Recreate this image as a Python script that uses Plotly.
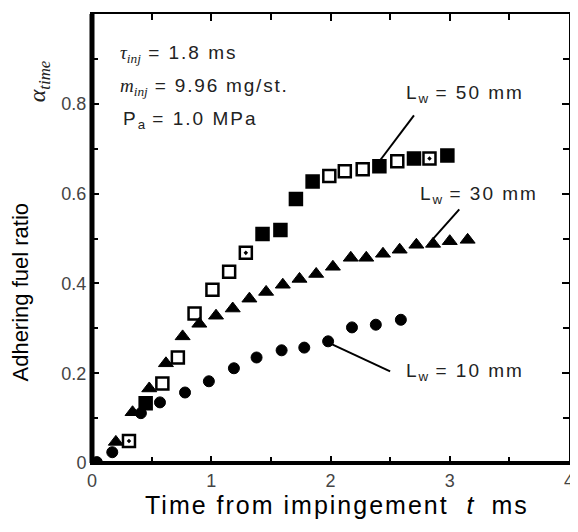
import plotly.graph_objects as go

# ---- data ----
t_50 = [0.31, 0.45, 0.59, 0.72, 0.86, 1.01, 1.15, 1.29, 1.43, 1.58, 1.71, 1.85, 1.99, 2.12, 2.27, 2.41, 2.56, 2.70, 2.83, 2.98]
a_50 = [0.049, 0.133, 0.177, 0.235, 0.333, 0.386, 0.426, 0.468, 0.510, 0.519, 0.588, 0.627, 0.639, 0.650, 0.654, 0.661, 0.672, 0.678, 0.678, 0.685]

t_30 = [0.20, 0.34, 0.48, 0.62, 0.76, 0.90, 1.04, 1.18, 1.32, 1.46, 1.60, 1.74, 1.88, 2.02, 2.17, 2.30, 2.44, 2.58, 2.72, 2.86, 3.00, 3.15]
a_30 = [0.047, 0.113, 0.166, 0.222, 0.282, 0.310, 0.328, 0.344, 0.366, 0.381, 0.397, 0.410, 0.421, 0.437, 0.457, 0.457, 0.466, 0.475, 0.486, 0.488, 0.494, 0.497]

t_10 = [0.04, 0.17, 0.41, 0.57, 0.78, 0.98, 1.19, 1.38, 1.59, 1.78, 1.98, 2.18, 2.38, 2.59]
a_10 = [0.002, 0.024, 0.111, 0.135, 0.157, 0.182, 0.211, 0.235, 0.251, 0.257, 0.271, 0.302, 0.308, 0.319]

x_ticks = [0, 1, 2, 3, 4]
y_ticks = [0, 0.2, 0.4, 0.6, 0.8, 1]
y_tick_labels = ["0", "0.2", "0.4", "0.6", "0.8", "1"]

# per-point marker styles for the 50 mm squares (filled vs. open)
sym_50 = ["square-open-dot", "square", "square-open", "square-open", "square-open", "square-open",
          "square-open", "square-open-dot", "square", "square", "square", "square",
          "square-open", "square-open", "square-open", "square", "square-open", "square",
          "square-open-dot", "square"]

fig = go.Figure()
fig.add_trace(go.Scatter(x=t_10, y=a_10, mode="markers",
                         marker=dict(symbol="circle", size=11, color="black",
                                     line=dict(color="black", width=1)),
                         showlegend=False))
fig.add_trace(go.Scatter(x=t_30, y=a_30, mode="markers",
                         marker=dict(symbol="triangle-up", size=13, color="black",
                                     line=dict(color="black", width=1)),
                         showlegend=False))
fig.add_trace(go.Scatter(x=t_50, y=a_50, mode="markers",
                         marker=dict(symbol=sym_50, size=12, color="black",
                                     line=dict(color="black", width=2.5)),
                         showlegend=False))

tick_font = dict(family="Liberation Sans, Arial, sans-serif", size=18, color="#444")
fig.update_xaxes(range=[0, 4], tickvals=x_ticks, ticktext=[str(v) for v in x_ticks],
                 ticks="inside", ticklen=7, tickwidth=1.5, tickcolor="black",
                 minor=dict(dtick=0.5, ticks="inside", ticklen=6, tickwidth=1.5, tickcolor="black", showgrid=False),
                 showline=True, linecolor="black", linewidth=2, mirror="allticks",
                 showgrid=False, zeroline=False, tickfont=tick_font)
fig.update_yaxes(range=[0, 1], tickvals=y_ticks, ticktext=y_tick_labels,
                 ticks="inside", ticklen=7, tickwidth=1.5, tickcolor="black",
                 minor=dict(dtick=0.1, ticks="inside", ticklen=6, tickwidth=1.5, tickcolor="black", showgrid=False),
                 showline=True, linecolor="black", linewidth=2, mirror="allticks",
                 showgrid=False, zeroline=False, tickfont=tick_font)

# thick left and bottom axis lines
fig.add_shape(type="line", xref="x domain", yref="y domain", x0=0, x1=0, y0=0, y1=1,
              line=dict(color="black", width=5))
fig.add_shape(type="line", xref="x domain", yref="y domain", x0=0, x1=1, y0=0, y1=0,
              line=dict(color="black", width=4))

# leader lines for labels
fig.add_shape(type="line", xref="x", yref="y", x0=2.41, y0=0.672, x1=2.70, y1=0.774,
              line=dict(color="black", width=2))
fig.add_shape(type="line", xref="x", yref="y", x0=2.86, y0=0.499, x1=3.08, y1=0.565,
              line=dict(color="black", width=2))
fig.add_shape(type="line", xref="x", yref="y", x0=2.00, y0=0.266, x1=2.50, y1=0.204,
              line=dict(color="black", width=2))

# plot area in screenshot pixels: x 92..574, y 12..463
PX0, PX1, PY0, PY1 = 92.0, 574.0, 12.0, 463.0


def px(x):
    return (x - PX0) / (PX1 - PX0)


def py(y):
    return (PY1 - y) / (PY1 - PY0)


def spaced(s, ls=2):
    return f"<span style=\"letter-spacing:{ls}px\">{s}</span>"


ann_font = dict(family="Liberation Sans, Arial, sans-serif", size=19, color="#222")
serif = "font-family:'Liberation Serif','Times New Roman',serif"
anns = [
    dict(x=118, y=52, text=f"<span style=\"{serif}\"><i>τ<sub>inj</sub></i></span>" + spaced(" = 1.8 ms")),
    dict(x=118, y=85, text=f"<span style=\"{serif}\"><i>m<sub>inj</sub></i></span>" + spaced(" = 9.96 mg/st.", 1.8)),
    dict(x=121, y=118, text=spaced("P") + "<sub>a</sub>" + spaced(" = 1.0 MPa")),
    dict(x=407, y=92, text=spaced("L") + "<sub>w</sub>" + spaced(" = 50 mm")),
    dict(x=421, y=194, text=spaced("L") + "<sub>w</sub>" + spaced(" = 30 mm")),
    dict(x=407, y=372, text=spaced("L") + "<sub>w</sub>" + spaced(" = 10 mm")),
]
for a in anns:
    fig.add_annotation(x=px(a["x"]), y=py(a["y"]), xref="paper", yref="paper",
                       xanchor="left", yanchor="middle", text=a["text"], showarrow=False,
                       font=ann_font)

# axis titles
fig.add_annotation(x=px(20), y=py(291), xref="paper", yref="paper", textangle=-90,
                   xanchor="center", yanchor="middle",
                   text="Adhering fuel ratio", showarrow=False,
                   font=dict(family="Liberation Sans, Arial, sans-serif", size=22, color="black"))
fig.add_annotation(x=px(38), y=py(80), xref="paper", yref="paper", textangle=-90,
                   xanchor="center", yanchor="middle",
                   text=f"<span style=\"{serif}\"><i>α<sub>time</sub></i></span>", showarrow=False,
                   font=dict(family="Liberation Sans, Arial, sans-serif", size=24, color="#222"))
fig.add_annotation(x=px(340), y=py(505), xref="paper", yref="paper",
                   xanchor="center", yanchor="middle",
                   text=spaced("Time from impingement  ") + "<i>t</i>" + spaced("  ms"), showarrow=False,
                   font=dict(family="Liberation Sans, Arial, sans-serif", size=25, color="black"))

# page has an 8px body margin, so the figure is drawn 8px smaller and offset
fig.update_layout(width=570, height=524, margin=dict(l=84, r=4, t=4, b=69),
                  plot_bgcolor="white", paper_bgcolor="white")
fig.write_html("out.html")
